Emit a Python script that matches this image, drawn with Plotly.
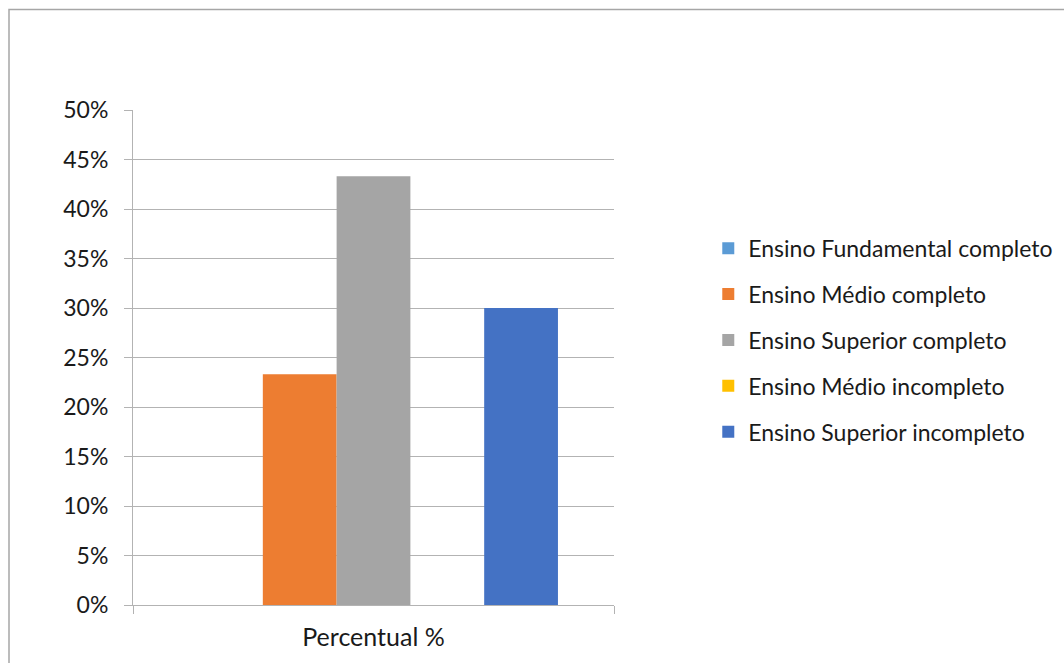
import plotly.graph_objects as go

categories = ["Percentual %"]
series_names = [
    "Ensino Fundamental completo",
    "Ensino Médio completo",
    "Ensino Superior completo",
    "Ensino Médio incompleto",
    "Ensino Superior incompleto",
]
series_values = [
    [0.0],
    [0.233],
    [0.433],
    [0.0],
    [0.30],
]
series_colors = ["#5B9BD5", "#ED7D31", "#A5A5A5", "#FFC000", "#4472C4"]
y_ticks = [0, 0.05, 0.10, 0.15, 0.20, 0.25, 0.30, 0.35, 0.40, 0.45, 0.50]

FONT = "Lato"
GRID = "#b3b3b3"

fig = go.Figure()
for name, vals, col in zip(series_names, series_values, series_colors):
    fig.add_trace(go.Bar(
        x=categories, y=vals, name=name, marker_color=col,
        marker_line_width=0, legendgroup=name,
    ))

fig.update_layout(
    width=1064, height=663,
    margin=dict(l=133, r=450, t=110, b=58, autoexpand=False),
    paper_bgcolor="white", plot_bgcolor="white",
    barmode="group", bargap=0.233, bargroupgap=0,
    font=dict(family=FONT, size=20, color="#1a1a1a"),
    showlegend=True,
    legend=dict(
        x=1.196, y=0.535, xanchor="left", yanchor="middle",
        font=dict(family=FONT, size=23, color="#1a1a1a"),
        tracegroupgap=13, traceorder="grouped",
        bgcolor="rgba(0,0,0,0)",
    ),
    xaxis=dict(
        showline=True, linecolor=GRID, linewidth=1,
        ticks="outside", ticklen=8, tickcolor=GRID, tickson="boundaries",
        showgrid=False, tickfont=dict(size=25),
        ticklabelstandoff=10,
    ),
    yaxis=dict(
        range=[0, 0.5], tickvals=y_ticks, tickformat=".0%",
        showgrid=True, gridcolor=GRID, gridwidth=1,
        showline=True, linecolor=GRID, linewidth=1,
        ticks="outside", ticklen=8, tickcolor=GRID,
        zeroline=False, tickfont=dict(size=23),
        ticklabelstandoff=11,
    ),
    shapes=[dict(
        type="rect", xref="paper", yref="paper",
        x0=(9 - 133) / 481, x1=(1080 - 133) / 481,
        y0=-(680 - 605) / 495, y1=1 + (110 - 9.5) / 495,
        line=dict(color="#a6a6a6", width=1.5), layer="below",
    )],
)

fig.write_html("out.html")
